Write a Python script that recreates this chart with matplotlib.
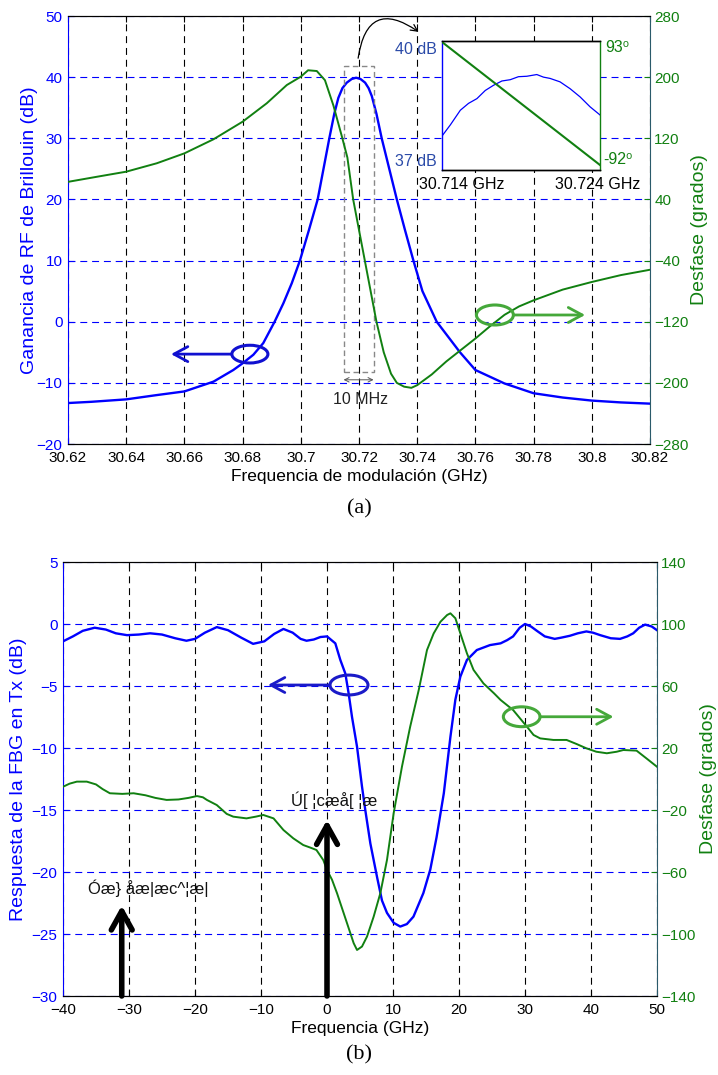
import matplotlib
matplotlib.use('Agg')
import matplotlib.pyplot as plt
from matplotlib.patches import Ellipse, Rectangle

plt.rcParams['font.family'] = ['Liberation Sans', 'DejaVu Sans']
plt.rcParams['lines.scale_dashes'] = False

W, H = 718, 1075

# ---------------- data: panel (a) ----------------
freq_a = [30.62, 30.628, 30.64, 30.6505, 30.66, 30.67, 30.6768, 30.68, 30.6837, 30.6871,
          30.691, 30.694, 30.6969, 30.6997, 30.7028, 30.7058, 30.7078, 30.7098, 30.7115,
          30.7129, 30.7143, 30.7158, 30.7175, 30.719, 30.7205, 30.7221, 30.7233, 30.7244,
          30.726, 30.7278, 30.7304, 30.733, 30.7358, 30.7387, 30.7418, 30.7467, 30.7547,
          30.76, 30.77, 30.78, 30.79, 30.80, 30.81, 30.82]
gain_a = [-13.3, -13.1, -12.7, -12.0, -11.4, -9.8, -7.9, -6.8, -5.4, -3.5,
          0.0, 3.0, 6.3, 10.0, 15.0, 20.0, 25.0, 30.0, 34.0,
          36.6, 38.2, 39.1, 39.7, 39.9, 39.7, 39.1, 38.2, 36.9,
          34.0, 30.0, 25.0, 20.0, 15.0, 10.0, 5.0, 0.0, -5.0,
          -7.9, -10.1, -11.7, -12.4, -12.9, -13.2, -13.4]

freq_pa = [30.62, 30.63, 30.64, 30.6505, 30.66, 30.67, 30.68, 30.6883, 30.6952, 30.70,
           30.7025, 30.7055, 30.7083, 30.7112, 30.714, 30.716, 30.718, 30.722, 30.726,
           30.7285, 30.731, 30.733, 30.7355, 30.738, 30.740, 30.745, 30.75, 30.755,
           30.76, 30.765, 30.77, 30.775, 30.78, 30.79, 30.80, 30.81, 30.82]
phase_a = [63, 69.7, 76.3, 87.3, 100.3, 118.7, 141.7, 165.8, 189.7, 200.6,
           209, 208, 196, 163, 124, 95, 40, -40, -120,
           -160, -188, -200, -205, -206.5, -203, -189, -172, -157,
           -142, -126, -111, -100, -92, -78, -68, -59, -52]

yticks_a = [-20, -10, 0, 10, 20, 30, 40, 50]
yticks_pa = [-280, -200, -120, -40, 40, 120, 200, 280]
xticks_a = [30.62, 30.64, 30.66, 30.68, 30.70, 30.72, 30.74, 30.76, 30.78, 30.80, 30.82]
xticklabels_a = ['30.62', '30.64', '30.66', '30.68', '30.7', '30.72', '30.74',
                 '30.76', '30.78', '30.8', '30.82']

# inset (zoom of the resonance)
freq_in = [30.7140, 30.71453, 30.71516, 30.71568, 30.71621, 30.71674, 30.71726,
           30.71779, 30.71832, 30.71884, 30.71937, 30.72000, 30.72042, 30.72084,
           30.72147, 30.72211, 30.72274, 30.72337, 30.7240]
gain_in = [37.79, 38.05, 38.39, 38.55, 38.66, 38.85, 38.97,
           39.07, 39.10, 39.17, 39.18, 39.22, 39.16, 39.13,
           39.05, 38.89, 38.70, 38.47, 38.28]
freq_pin = [30.714, 30.719, 30.724]
phase_in = [93, 0.5, -92]

# ---------------- data: panel (b) ----------------
freq_b = [-40, -38.5, -37, -35.2, -33.5, -32, -30.3, -28.5, -26.8, -25, -23, -21.3,
          -20, -18.5, -16.7, -15, -13, -11.2, -9.5, -8, -6.6, -5.2, -4, -3.1, -2, -1,
          0, 1.26, 2.02, 2.78, 3.28, 3.79, 4.55, 5.3, 5.8, 6.57, 7.58, 8.33, 9.09, 10.1,
          11.1, 12.1, 13.1, 14.6, 15.65, 16.6, 17.7, 18.7, 19.45, 20.2, 21.2, 22.7, 24.7,
          26.3, 27.3, 28.2, 29.2, 30.0, 30.9, 31.8, 33, 34.5, 35.5, 36.8, 38, 39.3, 40.3,
          41.4, 43, 44.4, 45.5, 46.4, 47.3, 48.2, 49.2, 50]
resp_b = [-1.4, -1.0, -0.55, -0.3, -0.45, -0.75, -0.9, -0.85, -0.75, -0.85, -1.15, -1.35,
          -1.2, -0.7, -0.25, -0.5, -1.1, -1.6, -1.4, -0.8, -0.4, -0.7, -1.2, -1.35, -1.25,
          -1.05, -1.0, -1.56, -2.9, -4.0, -5.6, -7.5, -9.9, -13.1, -15.0, -17.7, -20.4,
          -22.3, -23.3, -24.1, -24.4, -24.2, -23.6, -21.7, -19.8, -17.2, -13.65, -9.1,
          -6.1, -4.25, -2.9, -2.1, -1.7, -1.56, -1.3, -1.0, -0.3, 0.0, -0.2, -0.55, -1.0,
          -1.2, -1.1, -0.95, -0.75, -0.6, -0.7, -0.9, -1.15, -1.2, -1.0, -0.75, -0.3,
          -0.05, -0.2, -0.5]

freq_pb = [-40, -39, -37.9, -36.4, -35, -34, -32.9, -31, -29.3, -27.5, -26, -24.3,
           -22.5, -21, -19.7, -18.8, -18.2, -16.7, -15.2, -14.2, -12.2, -10.8, -9.65,
           -8.1, -6.6, -5.1, -3.6, -2.5, -1.6, -0.56, 0, 0.76, 1.52, 2.53, 3.54, 4.04,
           4.55, 5.3, 6.06, 7.07, 8.08, 9.09, 10.1, 11.36, 12.6, 13.9, 15.15, 16.16,
           17.2, 18.2, 18.7, 19.45, 20.2, 21.2, 22.2, 23.7, 25.3, 26.3, 28.2, 30.3, 31.3,
           32.3, 34.3, 36.3, 37.8, 39.3, 40.8, 42.4, 43.9, 44.9, 46.9, 48.4, 50]
phase_b = [-5, -3, -1.7, -1.7, -3.5, -6.5, -9.2, -9.6, -9.2, -10.5, -12.2, -13.5,
           -13.2, -12.2, -11, -11.8, -13.5, -16.8, -22.5, -24.3, -25.4, -24.3, -23.2,
           -25.4, -32.9, -38.3, -42.6, -44.3, -45.8, -52.3, -58.7, -65, -73.7, -86.6,
           -99.5, -105.9, -110.3, -108.1, -101.7, -88.8, -73.7, -52.2, -22.1, 8, 33.7,
           57.4, 83.2, 93.9, 101.5, 105.8, 106.9, 103.7, 94, 81.1, 70.4, 61.7, 55.3, 51,
           44.5, 33.7, 28.4, 26.2, 25.2, 25.2, 22.6, 19.8, 17.6, 16.6, 17.6, 18.7, 18.3,
           13.3, 7.9]

yticks_b = [-30, -25, -20, -15, -10, -5, 0, 5]
yticks_pb = [-140, -100, -60, -20, 20, 60, 100, 140]
xticks_b = [-40, -30, -20, -10, 0, 10, 20, 30, 40, 50]

# ---------------- style ----------------
BLUE = '#0000ff'
GREEN = '#118011'
LGREEN = '#45a83a'
TEAL = '#2a5a6a'
DASH = (0, (5, 3.5))
TICK_FS = 11
LAB_FS = 14


def fx(px):
    return px / W


def fy(py):
    return 1 - py / H


def box(l, t, r, b):
    return [fx(l), fy(b), fx(r) - fx(l), fy(t) - fy(b)]


fig = plt.figure(figsize=(W / 100, H / 100), dpi=100)


def style_axes(ax1, ax2):
    ax1.spines['left'].set_color(BLUE)
    ax1.spines['right'].set_visible(False)
    ax2.spines['left'].set_visible(False)
    ax2.spines['right'].set_color(TEAL)
    for a in (ax1, ax2):
        for s in ('top', 'bottom'):
            a.spines[s].set_color('black')
    ax1.tick_params(axis='y', colors=BLUE, labelsize=TICK_FS, direction='in', length=4, pad=4)
    ax1.tick_params(axis='x', colors='black', labelsize=TICK_FS, direction='in', length=4,
                    top=True, pad=5)
    ax2.tick_params(axis='y', colors=GREEN, labelsize=TICK_FS, direction='in', length=4, pad=3)
    ax1.grid(axis='x', color='black', linestyle=DASH, linewidth=0.8)
    ax1.grid(axis='y', color=BLUE, linestyle=DASH, linewidth=0.8)


# ================= panel (a) =================
ax1 = fig.add_axes(box(68, 16, 650, 444))
ax2 = ax1.twinx()
ax1.plot(freq_a, gain_a, color=BLUE, lw=1.7)
ax2.plot(freq_pa, phase_a, color=GREEN, lw=1.4)
ax1.set_xlim(30.62, 30.82)
ax1.set_ylim(-20, 50)
ax2.set_ylim(-280, 280)
ax1.set_xticks(xticks_a)
ax1.set_xticklabels(xticklabels_a)
ax1.set_yticks(yticks_a)
ax2.set_yticks(yticks_pa)
style_axes(ax1, ax2)
ax1.set_xlabel('Frequencia de modulación (GHz)', fontsize=12.5, labelpad=3)
ax1.set_ylabel('Ganancia de RF de Brillouin (dB)', fontsize=LAB_FS, color=BLUE, labelpad=-1)
ax2.set_ylabel('Desfase (grados)', fontsize=LAB_FS, color=GREEN, labelpad=2)

# dashed rectangle + 10 MHz (in gain units on the left axis)
ax1.add_patch(Rectangle((30.7147, -8.3), 0.0103, 41.9 + 8.3,
                        fill=False, ec='#888888', lw=1.0, ls=(0, (4, 2.5)), zorder=5))
ax1.annotate('', xy=(30.7250, -9.5), xytext=(30.7147, -9.5),
             arrowprops=dict(arrowstyle='<->', color='#555555', lw=0.7, shrinkA=0, shrinkB=0,
                             mutation_scale=8))
ax1.text(30.7205, -12.8, '10 MHz', fontsize=11.5, ha='center', va='center', color='#222222')

# curved arrow to inset
ax1.annotate('', xy=(30.7405, 47.4), xytext=(30.7197, 43.1), annotation_clip=False,
             arrowprops=dict(arrowstyle='->', color='black', lw=0.9, shrinkA=0, shrinkB=0,
                             connectionstyle='arc3,rad=-0.8', mutation_scale=12))

# blue ellipse with arrow
ax1.add_patch(Ellipse((30.6825, -5.3), 0.0124, 2.9, fill=False, ec='#1010d0', lw=2.2, zorder=6))
ax1.annotate('', xy=(30.6554, -5.3), xytext=(30.6825 - 0.0062, -5.3),
             arrowprops=dict(arrowstyle='->,head_length=0.5,head_width=0.27', color='#1010d0',
                             lw=2.0, shrinkA=0, shrinkB=0, mutation_scale=20))
# green ellipse with arrow
ax2.add_patch(Ellipse((30.7667, 1.1 * 8 - 120), 0.0127, 3.27 * 8, fill=False, ec=LGREEN,
                      lw=2.2, zorder=6))
ax2.annotate('', xy=(30.7977, 1.1 * 8 - 120), xytext=(30.7667 + 0.00635, 1.1 * 8 - 120),
             arrowprops=dict(arrowstyle='->,head_length=0.5,head_width=0.27', color=LGREEN,
                             lw=2.0, shrinkA=0, shrinkB=0, mutation_scale=20))

# inset
axi = fig.add_axes(box(442, 41, 600, 170))
axi.set_facecolor('white')
axi.plot(freq_in, gain_in, color=BLUE, lw=0.9)
axi.set_xlim(30.714, 30.724)
axi.set_ylim(37, 40)
axi.set_xticks([])
axi.set_yticks([])
axi2 = axi.twinx()
axi2.plot(freq_pin, phase_in, color=GREEN, lw=1.5)
axi2.set_ylim(-99.5, 94.5)
axi2.set_yticks([])
axi.spines['left'].set_color(BLUE)
axi.spines['right'].set_visible(False)
axi2.spines['left'].set_visible(False)
axi2.spines['right'].set_color(GREEN)
for a in (axi, axi2):
    for s in a.spines.values():
        s.set_linewidth(1.0)
INB = '#2a4aa8'
fig.text(fx(437), fy(49), '40 dB', color=INB, fontsize=11.5, ha='right', va='center')
fig.text(fx(437), fy(162), '37 dB', color=INB, fontsize=11.5, ha='right', va='center')
fig.text(fx(605), fy(48), '93\u2070', color=GREEN, fontsize=11.5, ha='left', va='center')
fig.text(fx(603), fy(160), '-92\u2070', color=GREEN, fontsize=11.5, ha='left', va='center')
fig.text(fx(419), fy(184), '30.714 GHz', color='black', fontsize=11.5, ha='left', va='center')
fig.text(fx(640), fy(184), '30.724 GHz', color='black', fontsize=11.5, ha='right', va='center')

fig.text(0.5, fy(509), '(a)', fontsize=16, ha='center', va='center', family='Liberation Serif')

# ================= panel (b) =================
bx1 = fig.add_axes(box(63, 562, 657, 996))
bx2 = bx1.twinx()
bx1.plot(freq_b, resp_b, color=BLUE, lw=1.7)
bx2.plot(freq_pb, phase_b, color=GREEN, lw=1.4)
bx1.set_xlim(-40, 50)
bx1.set_ylim(-30, 5)
bx2.set_ylim(-140, 140)
bx1.set_xticks(xticks_b)
bx1.set_yticks(yticks_b)
bx2.set_yticks(yticks_pb)
style_axes(bx1, bx2)
bx1.set_xlabel('Frequencia (GHz)', fontsize=12.5, labelpad=3)
bx1.set_ylabel('Respuesta de la FBG en Tx (dB)', fontsize=LAB_FS, color=BLUE, labelpad=3)
bx2.set_ylabel('Desfase (grados)', fontsize=LAB_FS, color=GREEN, labelpad=3)

# blue ellipse + arrow
bx2.add_patch(Ellipse((3.33, 100 + (-4.92) * 8), 5.76, 1.6 * 8, fill=False, ec='#1a1ac8',
                      lw=2.2, zorder=6))
bx2.annotate('', xy=(-8.94, 100 - 4.92 * 8), xytext=(3.33 - 2.88, 100 - 4.92 * 8),
             arrowprops=dict(arrowstyle='->,head_length=0.5,head_width=0.27', color='#1a1ac8',
                             lw=2.0, shrinkA=0, shrinkB=0, mutation_scale=20))
# green ellipse + arrow
bx2.add_patch(Ellipse((29.5, 100 - 7.48 * 8), 5.56, 1.6 * 8, fill=False, ec=LGREEN, lw=2.2,
                      zorder=6))
bx2.annotate('', xy=(43.4, 100 - 7.48 * 8), xytext=(29.5 + 2.78, 100 - 7.48 * 8),
             arrowprops=dict(arrowstyle='->,head_length=0.5,head_width=0.27', color=LGREEN,
                             lw=2.0, shrinkA=0, shrinkB=0, mutation_scale=20))

# carrier / sideband arrows
bx2.annotate('', xy=(0, 100 - 15.8 * 8), xytext=(0, -140), annotation_clip=False,
             arrowprops=dict(arrowstyle='->,head_length=0.45,head_width=0.25', color='black',
                             lw=4, shrinkA=0, shrinkB=0, mutation_scale=30), zorder=7)
bx2.annotate('', xy=(-31.1, 100 - 22.7 * 8), xytext=(-31.1, -140), annotation_clip=False,
             arrowprops=dict(arrowstyle='->,head_length=0.45,head_width=0.25', color='black',
                             lw=4, shrinkA=0, shrinkB=0, mutation_scale=30), zorder=7)
bx2.text(-5.4, 100 - 14.2 * 8, 'Ú[ ¦cæå[ ¦æ', fontsize=12, ha='left', va='center',
         color='#111111')
bx2.text(-36.2, 100 - 21.3 * 8, 'Óæ} åæ|æc^¦æ|', fontsize=12, ha='left', va='center',
         color='#111111')

fig.text(0.5, fy(1055), '(b)', fontsize=16, ha='center', va='center', family='Liberation Serif')

fig.savefig('out.png', dpi=100)
